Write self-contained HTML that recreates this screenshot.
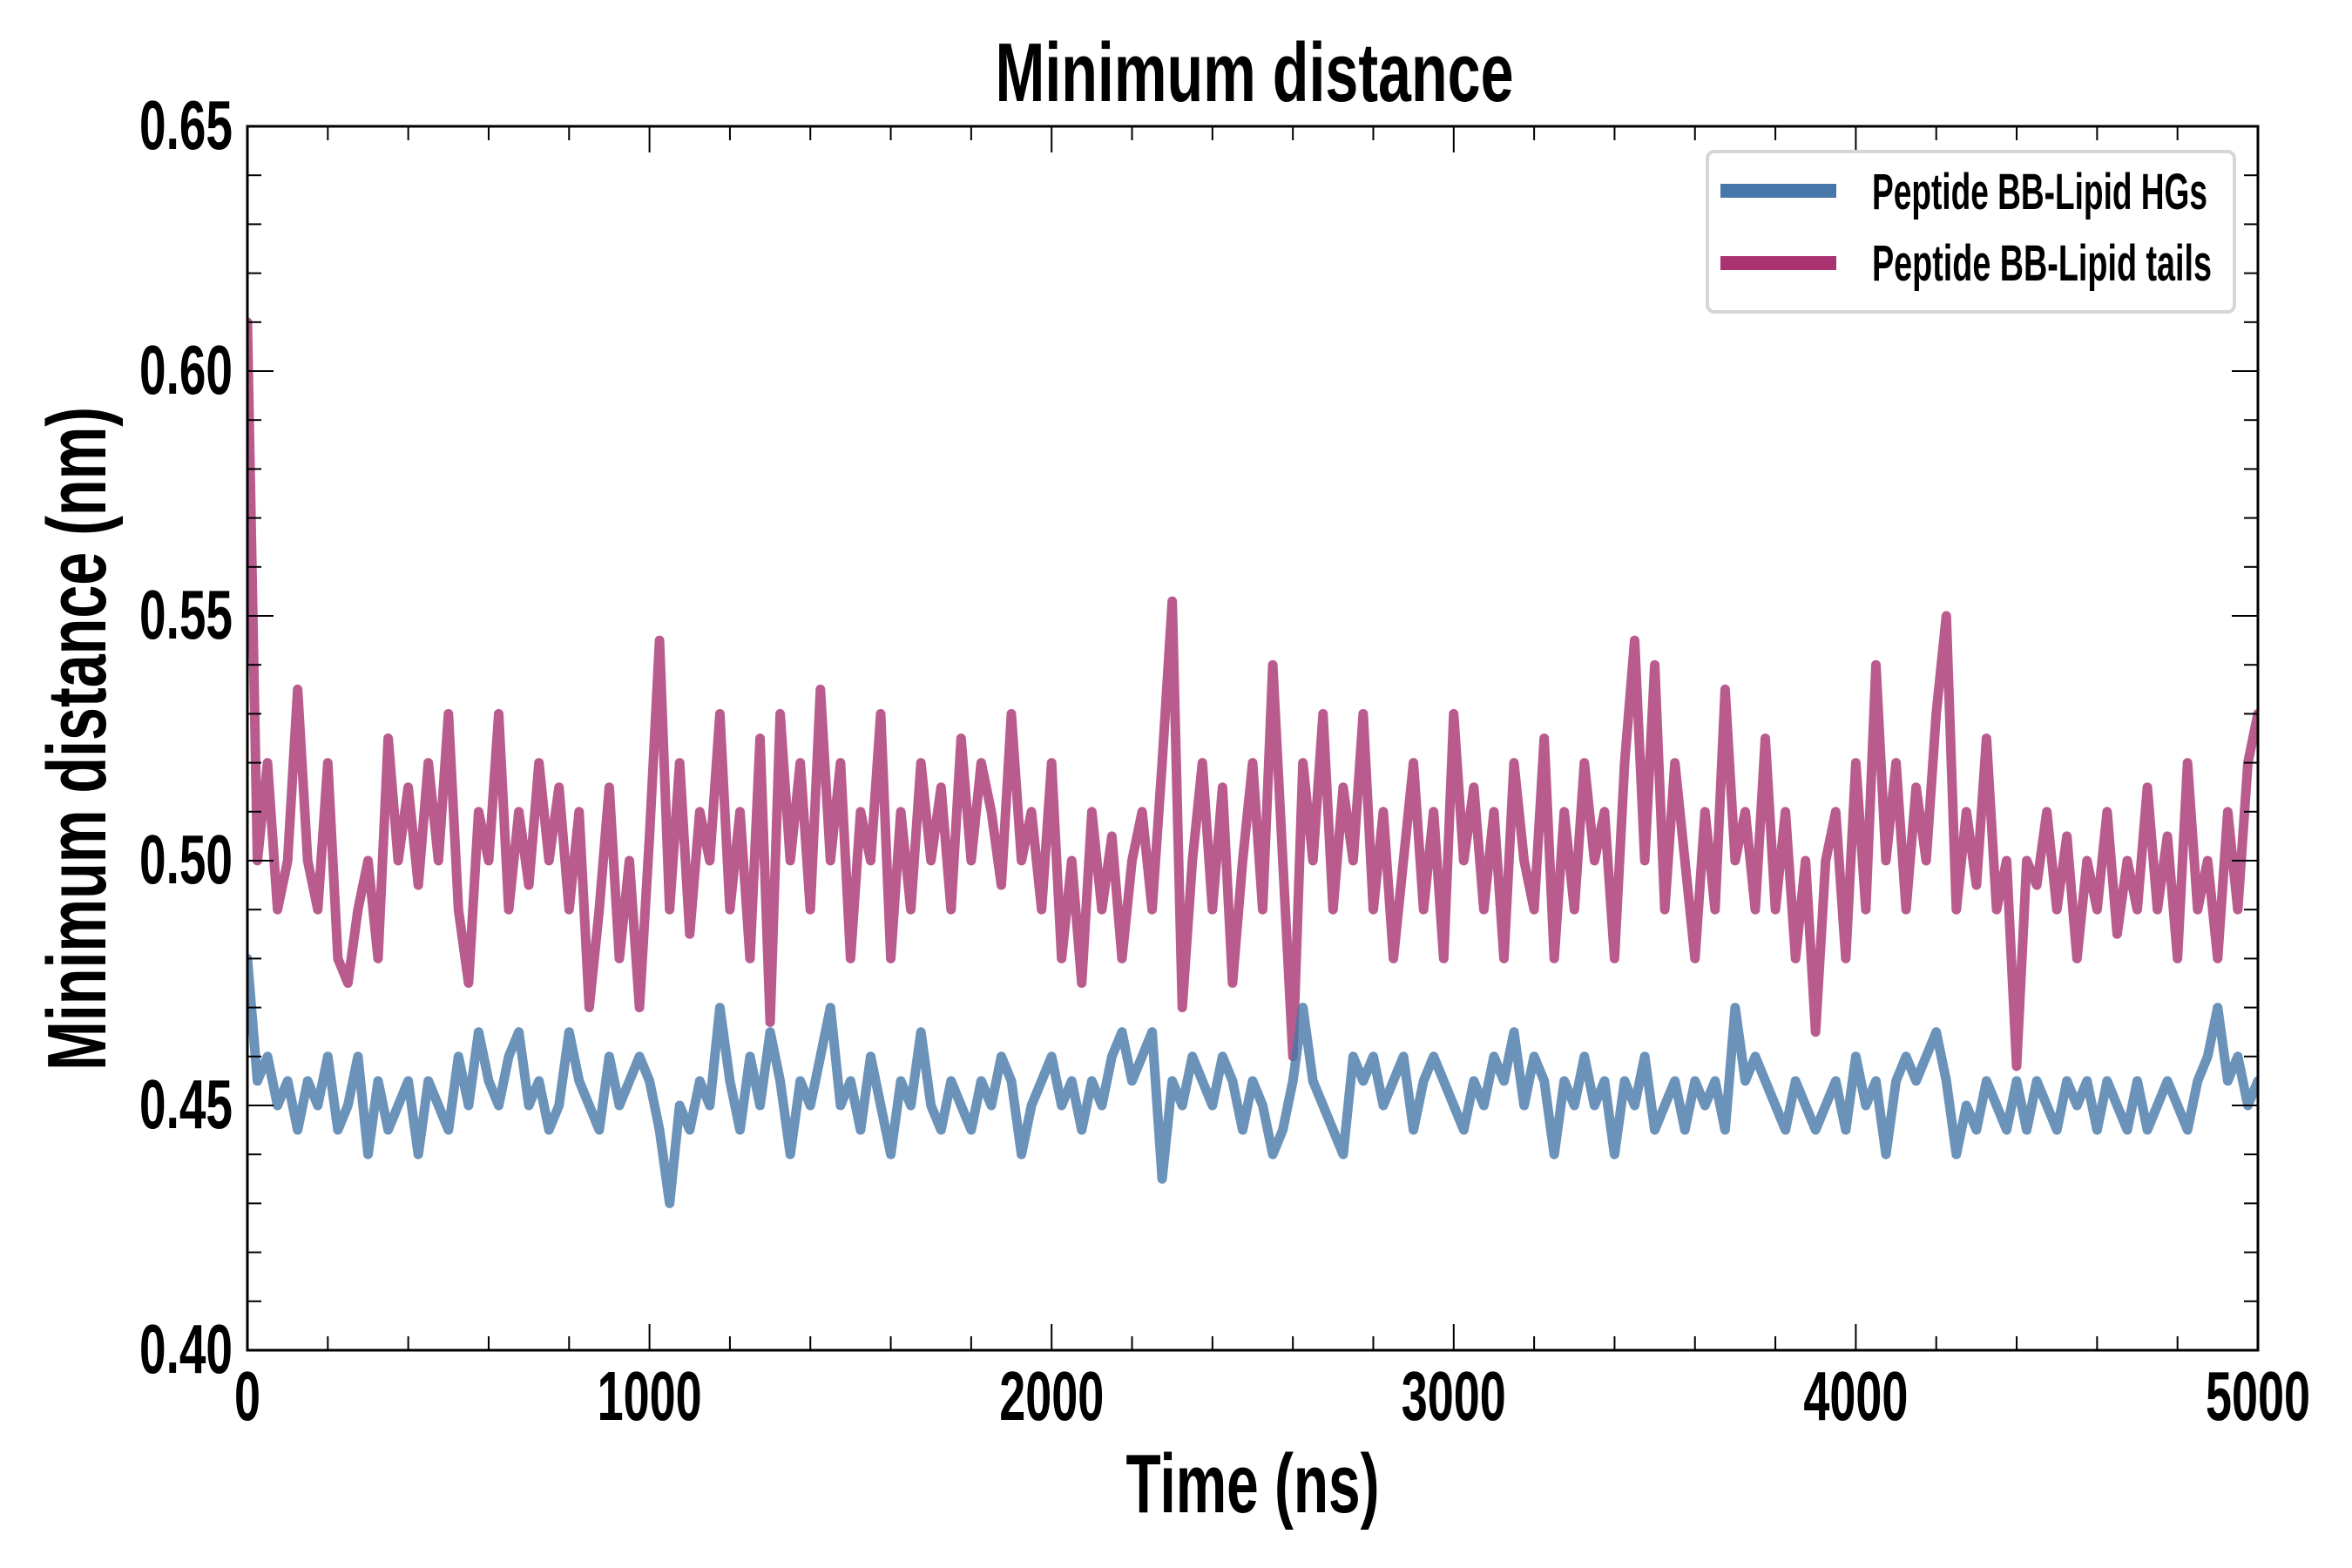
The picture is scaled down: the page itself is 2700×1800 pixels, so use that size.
<!DOCTYPE html>
<html><head><meta charset="utf-8"><style>
html,body{margin:0;padding:0;background:#fff;}
svg{display:block;}
text{font-family:"Liberation Sans Narrow","Liberation Sans",sans-serif;font-weight:bold;fill:#000;}
</style></head><body>
<svg id="chart" width="2700" height="1800" viewBox="0 0 2700 1800" xmlns="http://www.w3.org/2000/svg">
<g id="series"></g>
<g id="axes"></g>
<text x="1440" y="116" font-size="96" text-anchor="middle" textLength="595" lengthAdjust="spacingAndGlyphs">Minimum distance</text>
<text x="1438" y="1736" font-size="96" text-anchor="middle" textLength="291" lengthAdjust="spacingAndGlyphs">Time (ns)</text>
<text transform="translate(121,848) rotate(-90)" x="0" y="0" font-size="96" text-anchor="middle" textLength="762" lengthAdjust="spacingAndGlyphs">Minimum distance (nm)</text>
<g>
<rect x="1960" y="174" width="605" height="184" rx="8" fill="#fff" stroke="#d6d6d6" stroke-width="4"/>
<g>
<rect x="1975" y="211" width="133" height="16" fill="#4677a8"/>
<text x="2149" y="240" font-size="58" textLength="385" lengthAdjust="spacingAndGlyphs">Peptide BB-Lipid HGs</text>
</g>
<g>
<rect x="1975" y="294" width="133" height="16" fill="#a83370"/>
<text x="2149" y="322" font-size="58" textLength="390" lengthAdjust="spacingAndGlyphs">Peptide BB-Lipid tails</text>
</g>
</g>
</svg>
<script>
const tailsValues=[0.61,0.50,0.52,0.49,0.50,0.535,0.50,0.49,0.52,0.48,0.475,0.49,0.50,0.48,0.525,0.50,0.515,0.495,0.52,0.50,0.53,0.49,0.475,0.51,0.50,0.53,0.49,0.51,0.495,0.52,0.50,0.515,0.49,0.51,0.47,0.49,0.515,0.48,0.50,0.47,0.505,0.545,0.49,0.52,0.485,0.51,0.50,0.53,0.49,0.51,0.48,0.525,0.467,0.53,0.50,0.52,0.49,0.535,0.50,0.52,0.48,0.51,0.50,0.53,0.48,0.51,0.49,0.52,0.50,0.515,0.49,0.525,0.50,0.52,0.51,0.495,0.53,0.50,0.51,0.49,0.52,0.48,0.50,0.475,0.51,0.49,0.505,0.48,0.50,0.51,0.49,0.52,0.553,0.47,0.50,0.52,0.49,0.515,0.475,0.50,0.52,0.49,0.54,0.50,0.46,0.52,0.50,0.53,0.49,0.515,0.50,0.53,0.49,0.51,0.48,0.50,0.52,0.49,0.51,0.48,0.53,0.50,0.515,0.49,0.51,0.48,0.52,0.50,0.49,0.525,0.48,0.51,0.49,0.52,0.50,0.51,0.48,0.52,0.545,0.50,0.54,0.49,0.52,0.50,0.48,0.51,0.49,0.535,0.50,0.51,0.49,0.525,0.49,0.51,0.48,0.50,0.465,0.50,0.51,0.48,0.52,0.49,0.54,0.50,0.52,0.49,0.515,0.50,0.53,0.55,0.49,0.51,0.495,0.525,0.49,0.50,0.458,0.50,0.495,0.51,0.49,0.505,0.48,0.50,0.49,0.51,0.485,0.50,0.49,0.515,0.49,0.505,0.48,0.52,0.49,0.50,0.48,0.51,0.49,0.52,0.53];
const hgsValues=[0.48,0.455,0.46,0.45,0.455,0.445,0.455,0.45,0.46,0.445,0.45,0.46,0.44,0.455,0.445,0.45,0.455,0.44,0.455,0.45,0.445,0.46,0.45,0.465,0.455,0.45,0.46,0.465,0.45,0.455,0.445,0.45,0.465,0.455,0.45,0.445,0.46,0.45,0.455,0.46,0.455,0.445,0.43,0.45,0.445,0.455,0.45,0.47,0.455,0.445,0.46,0.45,0.465,0.455,0.44,0.455,0.45,0.46,0.47,0.45,0.455,0.445,0.46,0.45,0.44,0.455,0.45,0.465,0.45,0.445,0.455,0.45,0.445,0.455,0.45,0.46,0.455,0.44,0.45,0.455,0.46,0.45,0.455,0.445,0.455,0.45,0.46,0.465,0.455,0.46,0.465,0.435,0.455,0.45,0.46,0.455,0.45,0.46,0.455,0.445,0.455,0.45,0.44,0.445,0.455,0.47,0.455,0.45,0.445,0.44,0.46,0.455,0.46,0.45,0.455,0.46,0.445,0.455,0.46,0.455,0.45,0.445,0.455,0.45,0.46,0.455,0.465,0.45,0.46,0.455,0.44,0.455,0.45,0.46,0.45,0.455,0.44,0.455,0.45,0.46,0.445,0.45,0.455,0.445,0.455,0.45,0.455,0.445,0.47,0.455,0.46,0.455,0.45,0.445,0.455,0.45,0.445,0.45,0.455,0.445,0.46,0.45,0.455,0.44,0.455,0.46,0.455,0.46,0.465,0.455,0.44,0.45,0.445,0.455,0.45,0.445,0.455,0.445,0.455,0.45,0.445,0.455,0.45,0.455,0.445,0.455,0.45,0.445,0.455,0.445,0.45,0.455,0.45,0.445,0.455,0.46,0.47,0.455,0.46,0.45,0.455];
const xTickLabels=["0","1000","2000","3000","4000","5000"];
const yTickLabels=["0.40","0.45","0.50","0.55","0.60","0.65"];
const timeRange=[0,5000];
const distRange=[0.40,0.65];

const L=284,R=2592,T=145,B=1550;
const NS="http://www.w3.org/2000/svg";
function xScale(t){return L+(t-timeRange[0])/(timeRange[1]-timeRange[0])*(R-L);}
function yScale(v){return B-(v-distRange[0])/(distRange[1]-distRange[0])*(B-T);}
function mk(tag,attrs,parent){const e=document.createElementNS(NS,tag);for(const k in attrs)e.setAttribute(k,attrs[k]);parent.appendChild(e);return e;}
const series=document.getElementById('series');
const axes=document.getElementById('axes');
function drawLine(vals,color,name){
  const n=vals.length;
  const pts=vals.map((v,i)=>xScale(timeRange[0]+i*(timeRange[1]-timeRange[0])/(n-1)).toFixed(1)+','+yScale(v).toFixed(1)).join(' ');
  const p=mk('polyline',{points:pts,fill:'none',stroke:color,'stroke-width':11,'stroke-linejoin':'round','stroke-linecap':'round','clip-path':'url(#clip)'},series);
  
  
}
const defs=mk('defs',{},document.getElementById('chart'));
const cp=mk('clipPath',{id:'clip'},defs);
mk('rect',{x:L,y:T,width:R-L,height:B-T},cp);
drawLine(tailsValues,'rgba(168,51,112,0.8)','tails-line');
drawLine(hgsValues,'rgba(70,119,168,0.8)','hgs-line');

const frame=mk('rect',{x:L,y:T,width:R-L,height:B-T,fill:'none',stroke:'#000','stroke-width':3},axes);


for(let t=timeRange[0];t<=timeRange[1];t+=200){
  const major=t%1000===0, len=major?30:16, x=xScale(t);
  const a=mk('line',{x1:x,x2:x,y1:B,y2:B-len,stroke:'#000','stroke-width':2},axes);
  
  
  const b=mk('line',{x1:x,x2:x,y1:T,y2:T+len,stroke:'#000','stroke-width':2},axes);
  
  
}
xTickLabels.forEach((s,i)=>{
  const t=timeRange[0]+i*1000;
  const tx=mk('text',{x:xScale(t),y:1630,'font-size':80,'text-anchor':'middle',textLength:s.length*30,lengthAdjust:'spacingAndGlyphs'},axes);
  tx.textContent=s;
  
  
});
for(let k=0;k<=25;k++){
  const v=distRange[0]+k*0.01, major=k%5===0, len=major?30:16, y=yScale(v);
  const a=mk('line',{x1:L,x2:L+len,y1:y,y2:y,stroke:'#000','stroke-width':2},axes);
  
  
  const b=mk('line',{x1:R,x2:R-len,y1:y,y2:y,stroke:'#000','stroke-width':2},axes);
  
  
}
yTickLabels.forEach((s,i)=>{
  const v=distRange[0]+i*0.05;
  const tx=mk('text',{x:267,y:yScale(v)+26,'font-size':80,'text-anchor':'end',textLength:107,lengthAdjust:'spacingAndGlyphs'},axes);
  tx.textContent=s;
  
  
});
</script>
</body></html>
